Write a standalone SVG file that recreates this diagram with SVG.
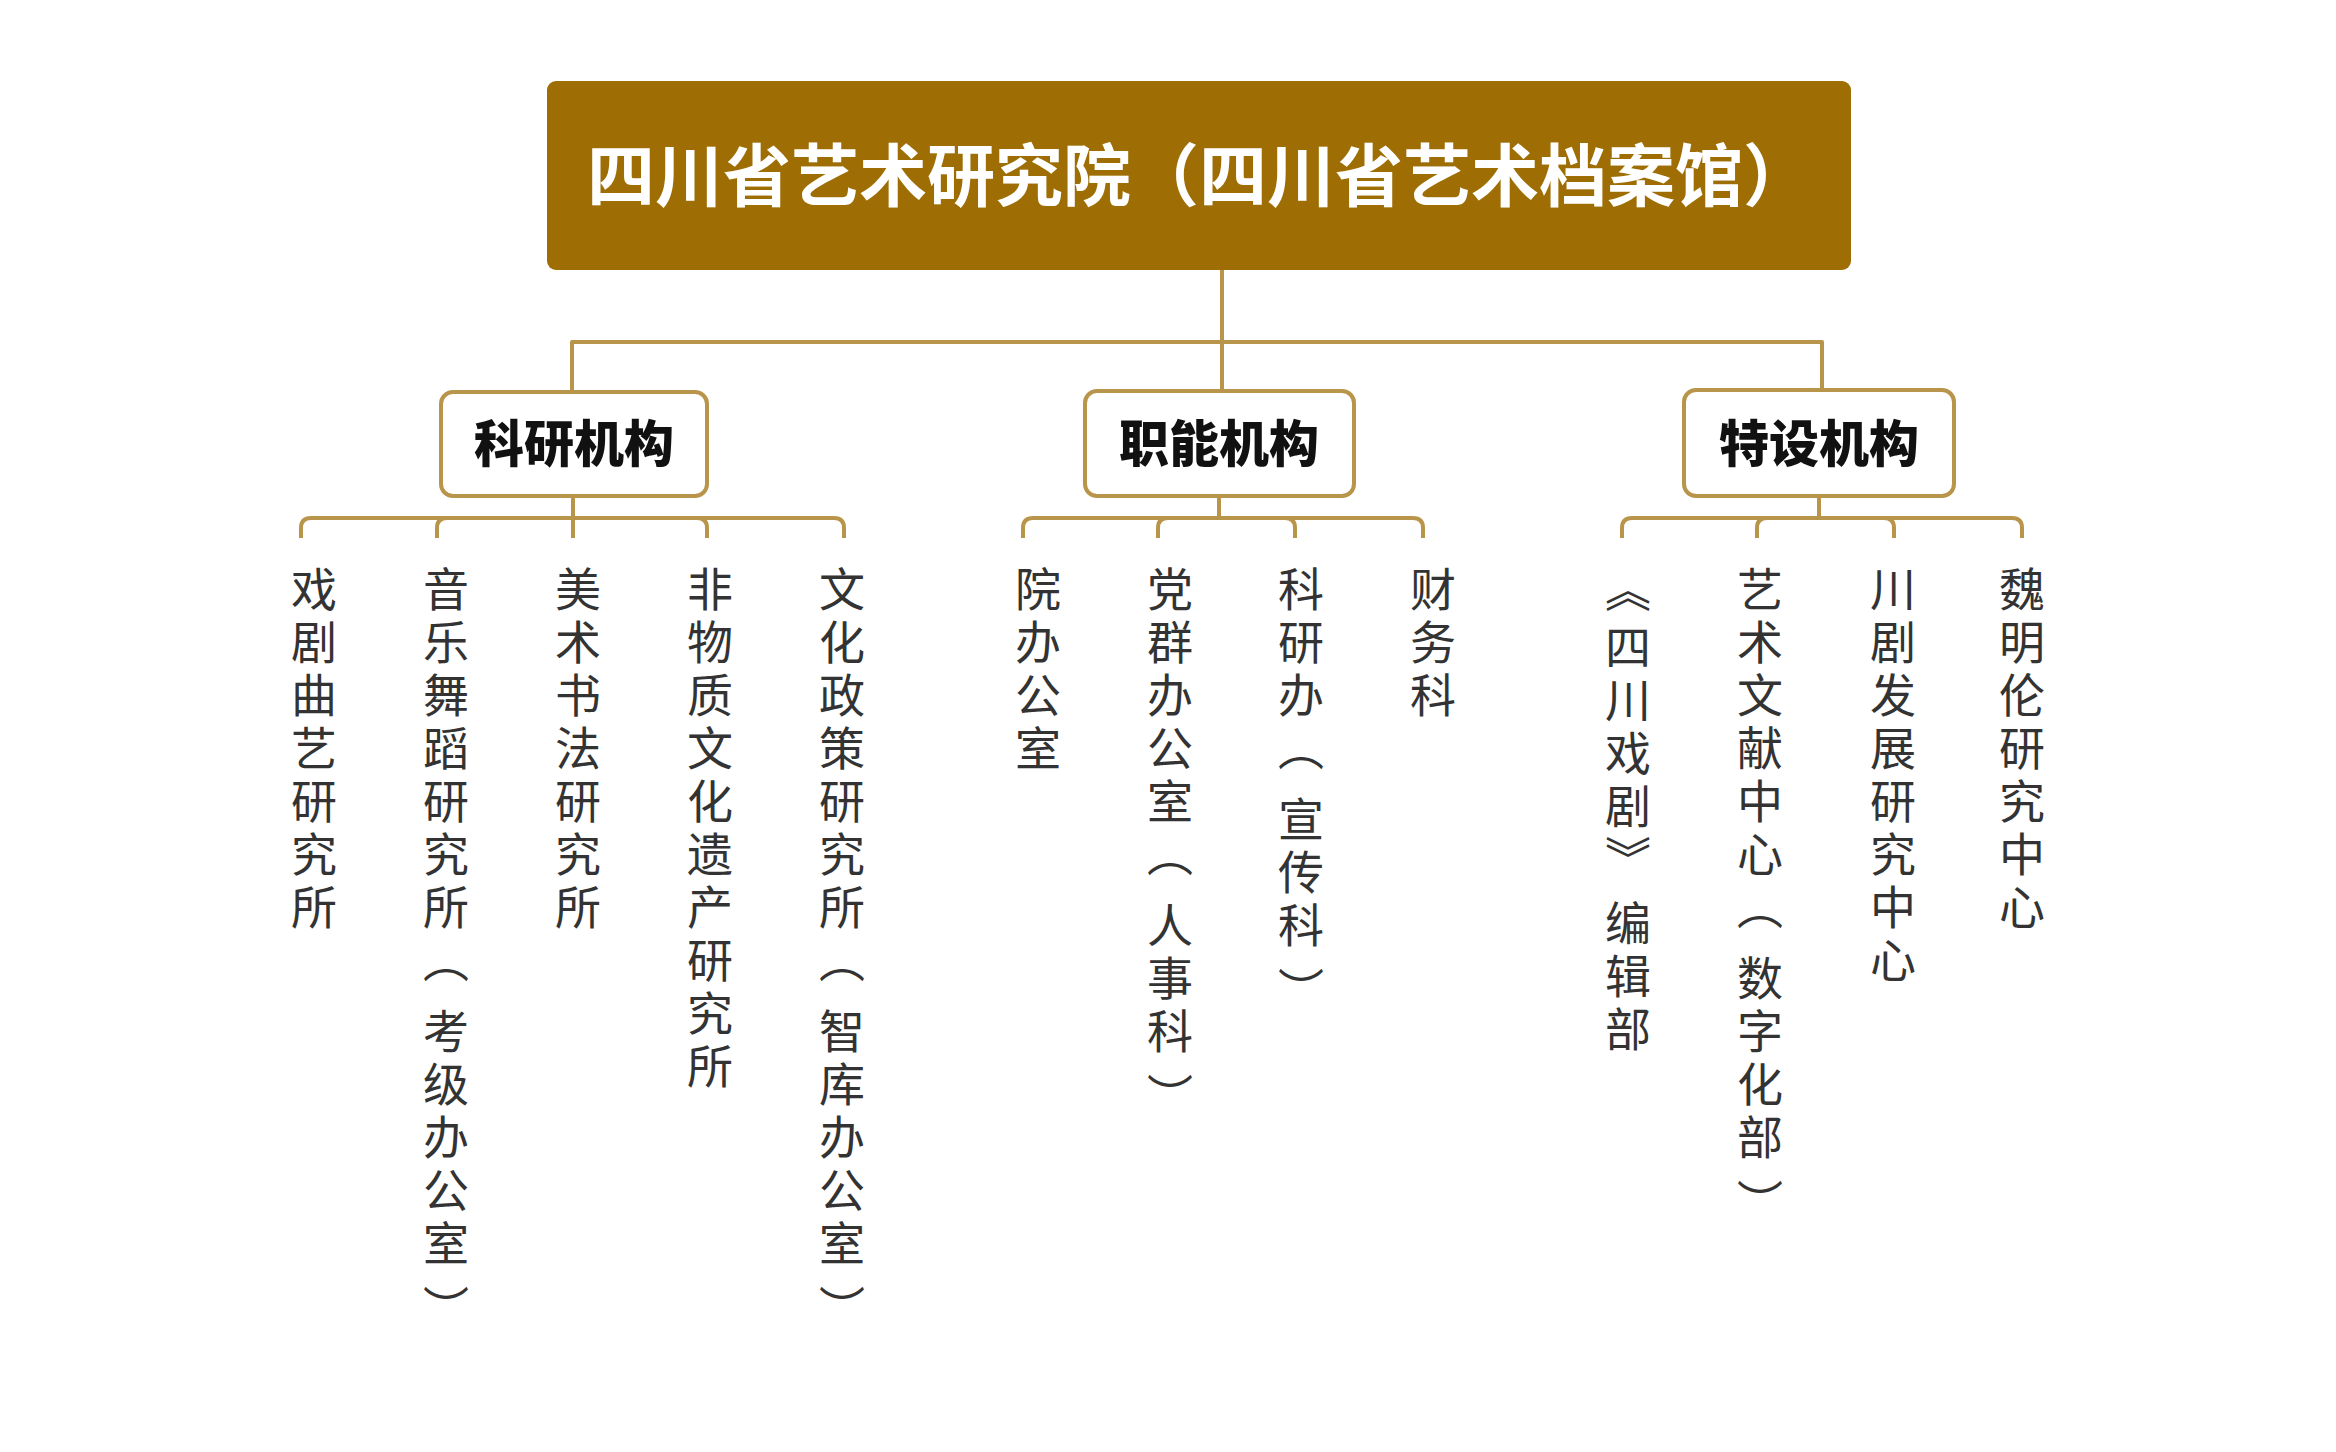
<svg xmlns="http://www.w3.org/2000/svg" width="2336" height="1452" viewBox="0 0 2336 1452">
<style>
.ln{fill:none;stroke:#B8954A;stroke-width:4;stroke-linejoin:round}
.cat rect{fill:#ffffff;stroke:#B8954A;stroke-width:4}
.cat text{font-family:"Noto Sans CJK SC",sans-serif;font-weight:900;font-size:50px;fill:#111111;text-anchor:middle}
.leaf text{font-family:"Noto Sans CJK SC",sans-serif;font-size:46px;fill:#333333;writing-mode:vertical-rl;letter-spacing:7px}
</style>
<rect width="2336" height="1452" fill="#ffffff"/>
<g id="connectors">
<path class="ln" d="M1222,270 V389"/>
<path class="ln" d="M572,390 V342 H1822 V388"/>
<path class="ln" d="M573,498 V518 H311 Q301,518 301,528 V538"/>
<path class="ln" d="M573,498 V518 H447 Q437,518 437,528 V538"/>
<path class="ln" d="M573,498 V538"/>
<path class="ln" d="M573,498 V518 H697 Q707,518 707,528 V538"/>
<path class="ln" d="M573,498 V518 H834 Q844,518 844,528 V538"/>
<path class="ln" d="M1219,498 V518 H1033 Q1023,518 1023,528 V538"/>
<path class="ln" d="M1219,498 V518 H1168 Q1158,518 1158,528 V538"/>
<path class="ln" d="M1219,498 V518 H1285 Q1295,518 1295,528 V538"/>
<path class="ln" d="M1219,498 V518 H1413 Q1423,518 1423,528 V538"/>
<path class="ln" d="M1819,498 V518 H1632 Q1622,518 1622,528 V538"/>
<path class="ln" d="M1819,498 V518 H1767 Q1757,518 1757,528 V538"/>
<path class="ln" d="M1819,498 V518 H1884 Q1894,518 1894,528 V538"/>
<path class="ln" d="M1819,498 V518 H2012 Q2022,518 2022,528 V538"/>
</g>
<g id="root">
<rect x="547" y="81" width="1304" height="189" rx="9" fill="#9E6E04"/>
<text x="1199" y="201" font-family="'Noto Sans CJK SC',sans-serif" font-weight="700" font-size="68" fill="#ffffff" text-anchor="middle">四川省艺术研究院（四川省艺术档案馆）</text>
</g>
<g id="cat-keyan" class="cat"><rect x="441" y="392" width="266" height="104" rx="12"/><text x="574" y="462">科研机构</text></g>
<g id="cat-zhineng" class="cat"><rect x="1085" y="391" width="269" height="105" rx="12"/><text x="1219" y="462">职能机构</text></g>
<g id="cat-teshe" class="cat"><rect x="1684" y="390" width="270" height="106" rx="12"/><text x="1819" y="462">特设机构</text></g>
<g id="leaf-1" class="leaf"><text x="314" y="566">戏剧曲艺研究所</text></g>
<g id="leaf-2" class="leaf"><text x="446" y="566" dy="0 0 0 0 0 0 0 0 18 0 0 0 0 12">音乐舞蹈研究所（考级办公室）</text></g>
<g id="leaf-3" class="leaf"><text x="578" y="566">美术书法研究所</text></g>
<g id="leaf-4" class="leaf"><text x="710" y="566">非物质文化遗产研究所</text></g>
<g id="leaf-5" class="leaf"><text x="842" y="566" dy="0 0 0 0 0 0 0 0 18 0 0 0 0 12">文化政策研究所（智库办公室）</text></g>
<g id="leaf-6" class="leaf"><text x="1038" y="566">院办公室</text></g>
<g id="leaf-7" class="leaf"><text x="1170" y="566" dy="0 0 0 0 0 0 18 0 0 12">党群办公室（人事科）</text></g>
<g id="leaf-8" class="leaf"><text x="1301" y="566" dy="0 0 0 0 18 0 0 12">科研办（宣传科）</text></g>
<g id="leaf-9" class="leaf"><text x="1433" y="566">财务科</text></g>
<g id="leaf-10" class="leaf"><text x="1628" y="566" dy="0 5 0 0 0 0 11 0 0">《四川戏剧》编辑部</text></g>
<g id="leaf-11" class="leaf"><text x="1760" y="566" dy="0 0 0 0 0 0 0 18 0 0 0 12">艺术文献中心（数字化部）</text></g>
<g id="leaf-12" class="leaf"><text x="1893" y="566">川剧发展研究中心</text></g>
<g id="leaf-13" class="leaf"><text x="2022" y="566">魏明伦研究中心</text></g>
</svg>
